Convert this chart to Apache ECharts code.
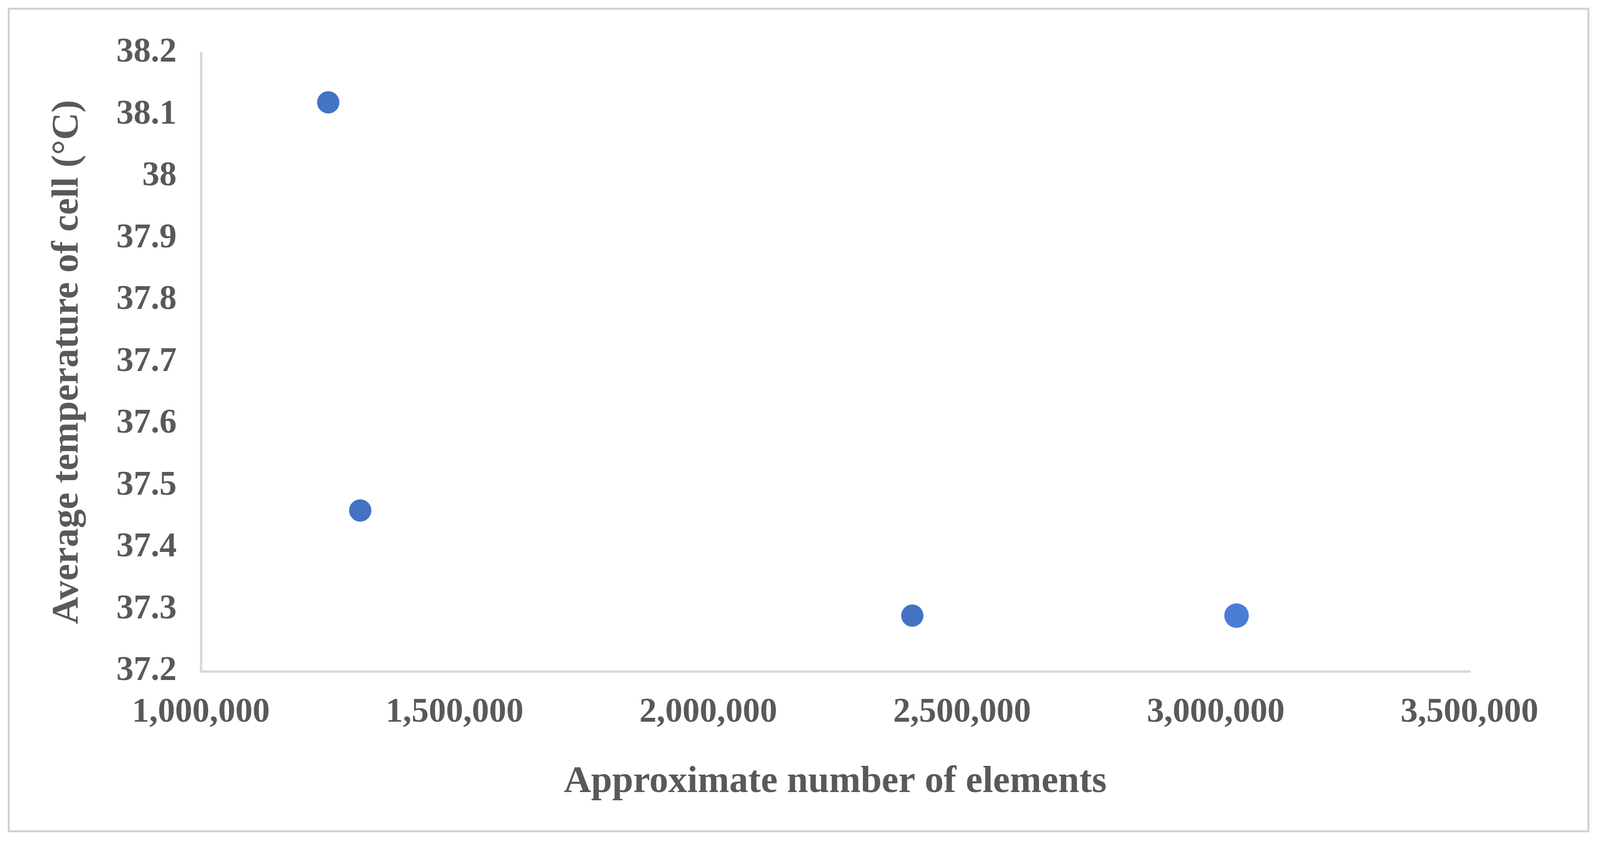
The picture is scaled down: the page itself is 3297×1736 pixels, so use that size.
<!DOCTYPE html>
<html>
<head>
<meta charset="utf-8">
<script src="https://cdn.jsdelivr.net/npm/echarts@6/dist/echarts.min.js"></script>
<style>
  html, body { margin: 0; padding: 0; background: #fff; }
  #frame { position: absolute; left: 16px; top: 16px; width: 3259px; height: 1700px; border: 4px solid #d0d0d0; box-sizing: border-box; }
  #chart { width: 3297px; height: 1736px; }
</style>
</head>
<body>
<div id="frame"></div>
<div id="chart"></div>
<script>
// number of elements vs average cell temperature
var elements = [1251000, 1314000, 2402000, 3041000];
var temperatures = [38.12, 37.46, 37.29, 37.29];

var chart = echarts.init(document.getElementById('chart'));
var textStyle = { fontFamily: 'Liberation Serif', fontWeight: 'bold', color: '#595959' };

chart.setOption({
    grid: { left: 414, right: 269, top: 109, bottom: 352 },
    xAxis: {
        type: 'value',
        min: 1000000, max: 3500000, interval: 500000,
        name: 'Approximate number of elements',
        nameLocation: 'middle', nameGap: 190,
        nameTextStyle: Object.assign({ fontSize: 78 }, textStyle),
        axisLine: { show: true, lineStyle: { color: '#d9d9d9', width: 5 } },
        axisTick: { show: false },
        splitLine: { show: false },
        axisLabel: Object.assign({
            fontSize: 71, margin: 50,
            formatter: function (v) { return v.toLocaleString('en-US'); }
        }, textStyle)
    },
    yAxis: {
        type: 'value',
        min: 37.2, max: 38.2, interval: 0.1,
        name: 'Average temperature of cell (°C)',
        nameLocation: 'middle', nameGap: 235,
        nameTextStyle: Object.assign({ fontSize: 78 }, textStyle),
        axisLine: { show: true, lineStyle: { color: '#d9d9d9', width: 5 } },
        axisTick: { show: false },
        splitLine: { show: false },
        axisLabel: Object.assign({
            fontSize: 71, margin: 50,
            formatter: function (v) { return String(parseFloat(v.toFixed(1))); }
        }, textStyle)
    },
    series: [{
        type: 'scatter',
        symbolSize: 46,
        itemStyle: { color: '#4472c4', opacity: 1 },
        data: elements.map(function (x, i) { return [x, temperatures[i]]; })
    }]
});
</script>
</body>
</html>
